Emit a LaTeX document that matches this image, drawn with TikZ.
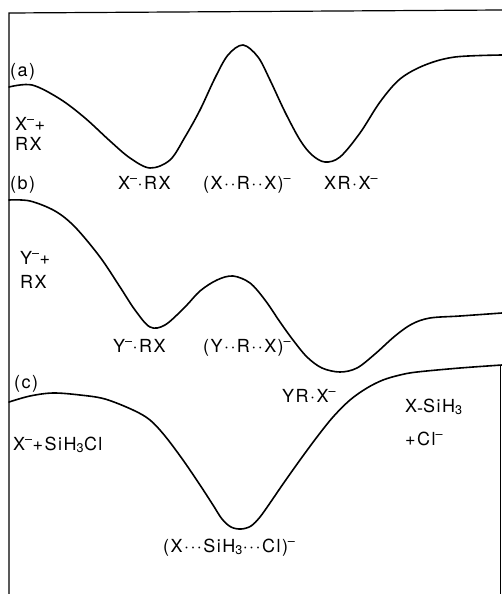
\documentclass[tikz,border=0pt]{standalone}
\usepackage{fontspec}
\setmainfont{TeX Gyre Heros}[LetterSpace=8]
\usepackage{tikz}

\newcommand{\mns}{\textsuperscript{\textendash}}
\newcommand{\low}[1]{\textsubscript{#1}}

\begin{document}
\begin{tikzpicture}[x=1pt, y=-1pt,
    curve/.style={line width=1.6pt, line join=round, line cap=round},
    frame/.style={line width=1.2pt},
    lab/.style={anchor=base west, inner sep=0pt, font=\fontsize{18}{21}\selectfont}]
    \useasboundingbox (0,0) rectangle (502,594);
    % frame
    \coordinate (TL) at (9,13);
    \coordinate (TR) at (502,10);
    \coordinate (BL) at (9,594);
    \coordinate (CR) at (500.5,365);
    \coordinate (BR) at (500.5,594);
    \draw[frame] (BL) -- (TL) -- (TR);
    \draw[frame] (CR) -- (BR);
    % (a) symmetric exchange
    \draw[curve] plot[smooth, tension=0.55] coordinates {(9,87) (32,85) (60,99) (85,118)
        (110,141) (130,158) (150,168) (170,160) (185,137) (200,110) (215,78)
        (228,55) (243,45) (258,57) (270,80) (285,112) (300,140) (312,155)
        (325,162) (340,157) (360,133) (380,102) (400,79) (425,65) (455,57) (502,55)};
    % (b) exothermic exchange
    \draw[curve] plot[smooth, tension=0.55] coordinates {(9,200) (30,201) (55,211) (75,227)
        (100,257) (120,287) (135,310) (150,327) (165,325) (185,307) (200,291)
        (217,280) (233,276) (250,283) (265,300) (280,322) (293,340) (307,357)
        (322,368) (340,372) (357,368) (375,354) (395,336) (412,324) (430,318)
        (460,316) (502,313)};
    % (c) stable intermediate
    \draw[curve] plot[smooth, tension=0.55] coordinates {(9,402) (30,396) (53,393) (80,395)
        (105,399) (133,410) (150,420) (165,436) (183,460) (200,485) (213,505)
        (222,519) (231,527) (241,529) (251,526) (260,517) (270,503) (283,484)
        (300,460) (317,437) (333,417) (350,400) (367,388) (383,380) (400,375)
        (417,372) (460,368) (502,365)};
    % labels
    \node[lab] (la) at (10,76) {(a)};
    \node[lab] (ra1) at (15,130) {X\mns+};
    \node[lab] (ra2) at (15,150) {RX};
    \node[lab] (lb) at (10,189) {(b)};
    \node[lab] (ia1) at (118,189) {X\mns·RX};
    \node[lab] (ta) at (203,189) {(X··R··X)\mns};
    \node[lab] (ia2) at (324,189) {XR·X\mns};
    \node[lab] (rb1) at (20,264) {Y\mns+};
    \node[lab] (rb2) at (20,288) {RX};
    \node[lab] (ib1) at (113,352) {Y\mns·RX};
    \node[lab] (tb) at (203,352) {(Y··R··X)\mns};
    \node[lab] (lc) at (14,388) {(c)};
    \node[lab] (ib2) at (282,402) {YR·X\mns};
    \node[lab] (rc) at (13,450) {X\mns+SiH\low{3}Cl};
    \node[lab] (pc1) at (405,412) {X\raisebox{-2pt}{-}SiH\low{3}};
    \node[lab] (pc2) at (405,445) {+Cl\mns};
    \node[lab] (tc) at (163,552) {(X···SiH\low{3}···Cl)\mns};
\end{tikzpicture}
\end{document}
